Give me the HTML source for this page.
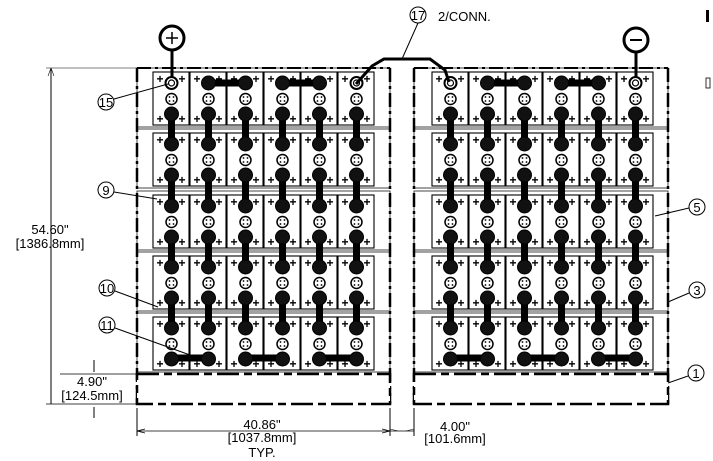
<!DOCTYPE html>
<html><head><meta charset="utf-8"><style>
html,body{margin:0;padding:0;background:#fff;}
svg{display:block;}
text{font-family:"Liberation Sans",sans-serif;fill:#000;}
</style></head><body>
<svg id="s" width="713" height="461" viewBox="0 0 713 461" xmlns="http://www.w3.org/2000/svg">
<rect width="713" height="461" fill="#fff"/>
<g id="g" stroke="#000" fill="none"></g>
<text x="50" y="234" font-size="13" text-anchor="middle">54.60"</text>
<text x="50" y="248" font-size="13" text-anchor="middle">[1386.8mm]</text>
<text x="92" y="386" font-size="13" text-anchor="middle">4.90"</text>
<text x="92" y="400" font-size="13" text-anchor="middle">[124.5mm]</text>
<text x="262" y="429" font-size="13" text-anchor="middle">40.86"</text>
<text x="262" y="442" font-size="13" text-anchor="middle">[1037.8mm]</text>
<text x="262" y="457" font-size="13" text-anchor="middle">TYP.</text>
<text x="455" y="431" font-size="13" text-anchor="middle">4.00"</text>
<text x="455" y="443" font-size="13" text-anchor="middle">[101.6mm]</text>
<text x="438" y="21" font-size="13">2/CONN.</text>
</svg>
<script>
var g=document.getElementById('g'),NS="http://www.w3.org/2000/svg";
function el(t,a,p){var e=document.createElementNS(NS,t);for(var k in a)e.setAttribute(k,a[k]);(p||g).appendChild(e);return e;}
function line(x1,y1,x2,y2,w,d){var a={x1:x1,y1:y1,x2:x2,y2:y2,'stroke-width':w||1};if(d)a['stroke-dasharray']=d;return el('line',a);}
function txt(x,y,s,sz,b){var a={x:x,y:y,'font-size':sz||12,'text-anchor':'middle',stroke:'none'};if(b)a['font-weight']='bold';var t=el('text',a);t.textContent=s;return t;}
function lab(x,y,s){el('circle',{cx:x,cy:y,r:8,'stroke-width':1,fill:'#fff'});txt(x,y+5,s,13);}
var rowsTop=[72,133,195,256,317];
function rack(fx1,fx2,X0,side){
  var dd="14 4 3 4";
  for(var r=0;r<5;r++){var t=rowsTop[r];
    el('rect',{x:fx1,y:t-4,width:fx2-fx1,height:59,'stroke-width':1,stroke:'#444'});
  }
  line(fx1,68,fx2,68,2,dd);line(fx1,68,fx1,404,2.5,dd);line(fx2,68,fx2,404,2.5,dd);
  el('rect',{x:fx1,y:374,width:fx2-fx1,height:30,'stroke-width':2.5,'stroke-dasharray':"22 5 8 5",fill:'#fff'});
  for(var r=0;r<5;r++){var t=rowsTop[r];
    for(var c=0;c<6;c++){var x=X0+c*37;
      el('rect',{x:x,y:t,width:36,height:53,'stroke-width':1.1,fill:'#fff'});
      txt(x+7,t+11,'+',12,1);txt(x+29,t+11,'+',12,1);
      txt(x+7,t+51,'+',12,1);txt(x+29,t+51,'+',12,1);
    }
  }
  for(var r=0;r<4;r++)for(var c=0;c<6;c++){var cx=X0+c*37+18.5;
    line(cx,rowsTop[r]+41,cx,rowsTop[r+1]+11,7);}
  [1,3].forEach(function(p){line(X0+p*37+18.5,83,X0+(p+1)*37+18.5,83,7);});
  [0,2,4].forEach(function(p){line(X0+p*37+18.5,358,X0+(p+1)*37+18.5,358,7);});
  for(var r=0;r<5;r++){var t=rowsTop[r];
    for(var c=0;c<6;c++){var cx=X0+c*37+18.5;
      var special=(r==0&&(c==0||c==5));
      if(special){el('circle',{cx:cx,cy:t+11,r:6,'stroke-width':2,fill:'#fff'});el('circle',{cx:cx,cy:t+11,r:3,'stroke-width':1.2,fill:'#fff'});}
      else {el('circle',{cx:cx,cy:t+11,r:7,'stroke-width':1,fill:'#111'});}
      el('circle',{cx:cx,cy:t+27,r:5.5,'stroke-width':1.5,fill:'#fff'});
      [[-2,-2],[2,-2],[-2,2],[2,2]].forEach(function(d){el('circle',{cx:cx+d[0],cy:t+27+d[1],r:0.9,fill:'#000',stroke:'none'});});
      el('circle',{cx:cx,cy:t+42,r:7,'stroke-width':1,fill:'#111'});
    }
  }
}
rack(137,390,153,'L');
rack(414,668,432,'R');
el('path',{d:'M356,84 L372,66 L384,59 L430,59 L445,70 L449,82','stroke-width':3});
line(418,23,402,59,1);
lab(418,15,'17');
line(172,50,172,78,3);el('circle',{cx:172,cy:38,r:12,'stroke-width':3,fill:'#fff'});
line(166,38,178,38,1.5);line(172,32,172,44,1.5);
line(636,52,636,78,3);el('circle',{cx:636,cy:40,r:12,'stroke-width':3,fill:'#fff'});
line(630,40,642,40,2);
lab(106,102,'15');line(114,99,168,84,1);
lab(106,190,'9');line(114,192,157,199,1);
lab(107,288,'10');line(115,291,158,307,1);
lab(107,325,'11');line(115,328,190,355,1);
lab(697,207,'5');line(689,208,655,216,1);
lab(697,290,'3');line(689,293,668,302,1);
lab(696,373,'1');line(688,376,668,383,1);
line(51,68,51,404,1);line(46,68,137,68,0.6);line(46,404,137,404,0.8);
line(51,68,48,76,0.6);line(51,68,54,76,0.6);
line(94,360,94,372,1);line(94,407,94,418,1);line(60,374,137,374,0.7);
line(137,408,137,436,1);line(390,408,390,436,1);line(414,408,414,436,1);
line(137,431,390,431,0.8);line(390,431,414,431,0.8);
line(137,431,145,429,0.8);line(137,431,145,433,0.8);
line(390,431,382,429,0.8);line(390,431,382,433,0.8);
line(398,431,390,429,0.6);line(406,431,414,429,0.6);
el('rect',{x:706,y:10,width:3,height:12,fill:'#000',stroke:'none'});
el('rect',{x:706,y:78,width:4,height:10,'stroke-width':0.8});
</script>
</body></html>
